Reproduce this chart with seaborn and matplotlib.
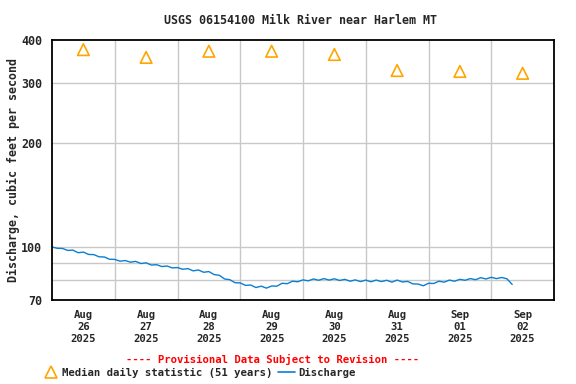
import numpy as np
import pandas as pd
import matplotlib
matplotlib.use("Agg")
import matplotlib.pyplot as plt
import matplotlib.ticker as mticker
from matplotlib.lines import Line2D
import seaborn as sns

# ---- data ----
title = "USGS 06154100 Milk River near Harlem MT"
start = "2025-08-26 00:00"
step_hours = 2
discharge = [
    99.9, 99.0, 98.9, 97.6, 97.8, 96.1, 96.5, 95.0, 94.9, 93.5, 93.4, 92.0,
    91.9, 90.8, 91.2, 90.2, 90.7, 89.4, 89.8, 88.5, 88.7, 87.6, 87.9, 86.8,
    87.0, 86.0, 86.4, 85.1, 85.6, 84.3, 84.7, 83.0, 82.6, 80.6, 80.2, 78.6,
    78.5, 77.2, 77.4, 76.1, 76.8, 75.8, 76.9, 76.8, 78.3, 78.1, 79.4, 79.1,
    80.1, 79.6, 80.6, 79.9, 80.8, 80.0, 80.7, 79.8, 80.4, 79.4, 80.1, 79.2,
    80.0, 79.1, 80.0, 79.2, 79.9, 78.9, 80.0, 79.0, 79.3, 78.0, 77.9, 77.0,
    78.3, 78.2, 79.4, 78.9, 80.0, 79.4, 80.4, 79.9, 80.8, 80.2, 81.3, 80.6,
    81.5, 80.8, 81.4, 80.7, 77.7,
]
median_days = ["2025-08-26", "2025-08-27", "2025-08-28", "2025-08-29",
               "2025-08-30", "2025-08-31", "2025-09-01", "2025-09-02"]
median_values = [375, 356, 371, 371, 363, 326, 324, 320]
tick_labels = ["Aug\n26\n2025", "Aug\n27\n2025", "Aug\n28\n2025", "Aug\n29\n2025",
               "Aug\n30\n2025", "Aug\n31\n2025", "Sep\n01\n2025", "Sep\n02\n2025"]
ytick_major = [70, 100, 200, 300, 400]
ygrid = [80, 90, 100, 200, 300]

times = pd.date_range(start, periods=len(discharge), freq=f"{step_hours}h")
df_q = pd.DataFrame({"time": times, "discharge": discharge})
df_m = pd.DataFrame({"time": pd.to_datetime(median_days) + pd.Timedelta(hours=12),
                     "median": median_values})

sns.set_theme(style="white")
plt.rcParams["font.family"] = ["DejaVu Sans Mono"]
plt.rcParams["font.weight"] = "bold"

BIG = 8.4
SMALL = 7.7

fig = plt.figure(figsize=(5.76, 3.84), dpi=100)
ax = fig.add_axes([52 / 576, 1 - 300 / 384, 502 / 576, 260 / 384])

sns.lineplot(data=df_q, x="time", y="discharge", ax=ax, color="#0a7fd2",
             linewidth=1.0, legend=False)
sns.scatterplot(data=df_m, x="time", y="median", ax=ax, marker="^", s=70,
                facecolors="none", edgecolor="#ffa500", linewidth=1.2,
                legend=False, zorder=5)

ax.set_yscale("log")
ax.set_ylim(70, 400)
x0 = pd.Timestamp("2025-08-26")
ax.set_xlim(x0, x0 + pd.Timedelta(days=8))

ax.yaxis.set_major_locator(mticker.FixedLocator(ytick_major))
ax.yaxis.set_major_formatter(mticker.FixedFormatter([str(v) for v in ytick_major]))
ax.yaxis.set_minor_locator(mticker.NullLocator())
for g in ygrid:
    ax.axhline(g, color="#c8c8c8", linewidth=1.0, zorder=0)
for i in range(1, 8):
    ax.axvline(x0 + pd.Timedelta(days=i), color="#c8c8c8", linewidth=1.0, zorder=0)

centers = [x0 + pd.Timedelta(days=i, hours=12) for i in range(8)]
ax.set_xticks(centers)
ax.set_xticklabels(tick_labels, fontsize=SMALL, fontweight="bold", linespacing=1.27)
ax.tick_params(axis="x", length=0, labelsize=SMALL, pad=7)
ax.tick_params(axis="y", length=0, labelsize=BIG, pad=7)
for lab in ax.get_yticklabels():
    lab.set_fontweight("bold")
ax.set_xlabel("")
ax.set_ylabel("Discharge, cubic feet per second", fontsize=BIG, fontweight="bold",
              labelpad=1)
for sp in ax.spines.values():
    sp.set_color("black")
    sp.set_linewidth(1.3)
ax.grid(False)

fig.text(301 / 576, 1 - 20 / 384, title, ha="center", va="center",
         fontsize=BIG, fontweight="bold")
fig.text(273 / 576, 1 - 359 / 384, "---- Provisional Data Subject to Revision ----",
         ha="center", va="center", fontsize=SMALL, fontweight="bold", color="red")

handles = [Line2D([], [], marker="^", linestyle="none", markerfacecolor="none",
                  markeredgecolor="#ffa500", markersize=8, markeredgewidth=1.2),
           Line2D([], [], color="#0a7fd2", linewidth=1.2)]
fig.legend(handles, ["Median daily statistic (51 years)", "Discharge"],
           loc="center left", bbox_to_anchor=(42 / 576, 1 - 373 / 384), ncol=2,
           frameon=False, fontsize=SMALL, handlelength=1.6, handletextpad=0.3,
           columnspacing=0.5, borderpad=0, borderaxespad=0)

fig.savefig("out.png", dpi=100)
